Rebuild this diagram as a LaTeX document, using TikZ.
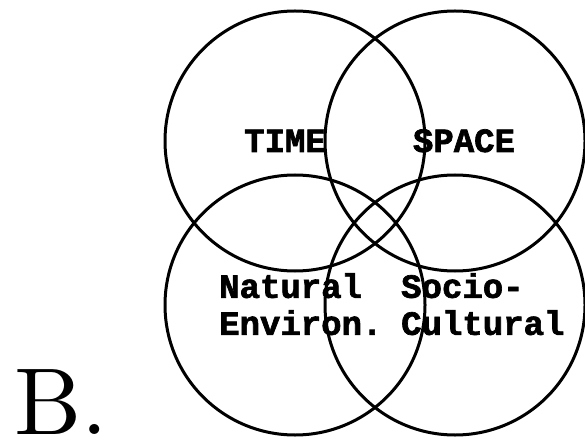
\documentclass[tikz,border=0pt]{standalone}
\usepackage{fontspec}
\setmonofont{Liberation Mono}[BoldFeatures={FakeBold=2}]
\newfontfamily\panelfont{lmroman10-regular}[Extension=.otf]
\usepackage{tikz}
\usetikzlibrary{positioning}
\tikzset{
  vcirc/.style={draw=black,line width=3pt},
  vlbl/.style={font=\ttfamily\bfseries\fontsize{34}{37}\selectfont,inner sep=0pt},
  vlbl2/.style={vlbl,align=left,anchor=north west},
  panellbl/.style={font=\panelfont\fontsize{95}{100}\selectfont,inner sep=0pt,anchor=base west},
}
\begin{document}
\begin{tikzpicture}[x=1pt,y=1pt]
  \useasboundingbox (0,0) rectangle (585,439);
  % circle centres
  \coordinate (ct) at (295,298);
  \coordinate (cs) at (455,298);
  \coordinate (cn) at (295,134);
  \coordinate (cc) at (455,134);
  \draw[vcirc] (ct) circle (130pt);
  \draw[vcirc] (cs) circle (130pt);
  \draw[vcirc] (cn) circle (130pt);
  \draw[vcirc] (cc) circle (130pt);
  % labels
  \node[vlbl,anchor=base] (time) at (285,287) {TIME};
  \node[vlbl,anchor=base] (space) at (464,287) {SPACE};
  \node[vlbl2] (natural) at (219,166) {Natural\\Environ.};
  \node[vlbl2] (socio) at (401,166) {Socio-\\Cultural};
  \node[panellbl] (panel) at (14,5) {B.};
\end{tikzpicture}
\end{document}
